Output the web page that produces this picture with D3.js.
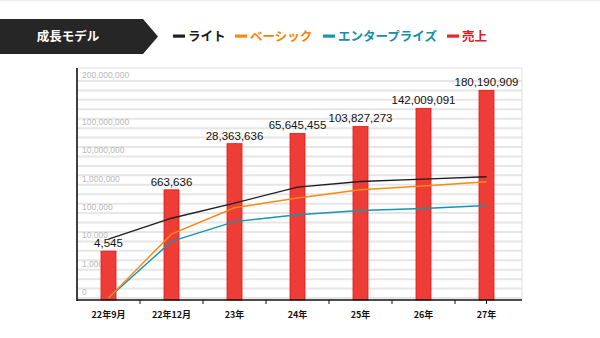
<!DOCTYPE html>
<html>
<head>
<meta charset="utf-8">
<script src="https://cdn.jsdelivr.net/npm/d3@7"></script>
<style>
  body { margin: 0; background: #fff; }
  svg { display: block; }
</style>
</head>
<body>
<div id="chart"></div>
<script>
var categories = ["22年9月", "22年12月", "23年", "24年", "25年", "26年", "27年"];
var sales      = [4545, 663636, 28363636, 65645455, 103827273, 142009091, 180190909];
var lite       = [12000, 66000, 225000, 830000, 1300000, 1590000, 1920000];
var basic      = [0, 18000, 154000, 340000, 665000, 910000, 1280000];
var enterprise = [0, 10000, 50000, 87000, 124000, 145000, 185000];
var yTicks     = [0, 1000, 10000, 100000, 1000000, 10000000, 100000000, 200000000];

var W = 600, H = 338;
var plotLeft = 77, plotRight = 522, plotTop = 68, base = 300;
var jp = "'Noto Sans CJK JP', 'Noto Sans', sans-serif";
var num = "'Liberation Sans', Arial, sans-serif";

// axis is linear up to 1,000, one step per decade up to 100M, then linear again to 200M
function tr(v) {
  if (v <= 1000) return v / 1000;
  if (v <= 1e8) return 1 + Math.log10(v / 1000);
  return 6 + (v - 1e8) / 1e8 * 5 / 3;
}

var x = d3.scalePoint().domain(categories).range([plotLeft, 518]).padding(0.5);
var y = d3.scaleLinear().domain([0, 23 / 3]).range([298, 81]);
var fmt = d3.format(",");

var svg = d3.select("#chart").append("svg")
    .attr("width", W)
    .attr("height", H);

svg.append("line")
    .attr("x1", 0).attr("x2", W).attr("y1", 0.5).attr("y2", 0.5)
    .attr("stroke", "#eeeeee");

// title banner
svg.append("path")
    .attr("d", "M0,19 L143,19 L158,36.5 L143,54 L0,54 Z")
    .attr("fill", "#262626");
svg.append("text")
    .attr("x", 68).attr("y", 41)
    .attr("text-anchor", "middle")
    .attr("fill", "#fff")
    .style("font", "bold 12.5px " + jp)
    .text("成長モデル");

// legend
var legend = [
  {name: "ライト", color: "#1e1e1e", text: "#1a1a1a", x: 173},
  {name: "ベーシック", color: "#f98a0b", text: "#f5820a", x: 235},
  {name: "エンタープライズ", color: "#1596ad", text: "#1590a8", x: 323},
  {name: "売上", color: "#e32a27", text: "#e0201e", x: 447}
];
var lg = svg.selectAll(".lg").data(legend).enter().append("g")
    .attr("class", "lg")
    .attr("transform", function(d) { return "translate(" + d.x + ",36)"; });
lg.append("rect")
    .attr("x", 0).attr("y", -1.5).attr("width", 12).attr("height", 3.2)
    .attr("fill", function(d) { return d.color; });
lg.append("text")
    .attr("x", 15).attr("y", 4.5)
    .attr("fill", function(d) { return d.text; })
    .style("font", "bold 12.5px " + jp)
    .text(function(d) { return d.name; });

// plot frame and grid
svg.append("path")
    .attr("d", "M" + plotLeft + "," + plotTop + " H" + plotRight + " V" + base)
    .attr("fill", "none")
    .attr("stroke", "#dedede");

svg.append("g").selectAll("line")
    .data(d3.range(0, 24))
  .enter().append("line")
    .attr("x1", plotLeft).attr("x2", plotRight)
    .attr("y1", function(k) { return y(k / 3); })
    .attr("y2", function(k) { return y(k / 3); })
    .attr("stroke", "#e6e6e6")
    .attr("stroke-width", 2);

svg.append("g").selectAll("text")
    .data(yTicks)
  .enter().append("text")
    .attr("x", 82)
    .attr("y", function(d) { return y(tr(d)) - 3; })
    .attr("fill", "#b8b8b8")
    .style("font", "8.5px " + num)
    .text(function(d) { return fmt(d); });

// sales bars
svg.append("g").selectAll("rect")
    .data(sales)
  .enter().append("rect")
    .attr("x", function(d, i) { return x(categories[i]) - 7.5; })
    .attr("y", function(d) { return y(tr(d)); })
    .attr("width", 15)
    .attr("height", function(d) { return base - y(tr(d)); })
    .attr("fill", "#ee3d37")
    .attr("stroke", "#e8141a")
    .attr("stroke-width", 0.8);

// plan lines
var line = d3.line()
    .x(function(d, i) { return x(categories[i]); })
    .y(function(d) { return y(tr(d)); });

[[enterprise, "#1596ad"], [basic, "#f98a0b"], [lite, "#1e1e1e"]].forEach(function(s) {
  svg.append("path")
      .datum(s[0])
      .attr("d", line)
      .attr("fill", "none")
      .attr("stroke", s[1])
      .attr("stroke-width", 1.4);
});

svg.append("g").selectAll("text")
    .data(sales)
  .enter().append("text")
    .attr("x", function(d, i) { return x(categories[i]); })
    .attr("y", function(d) { return y(tr(d)) - 4; })
    .attr("text-anchor", "middle")
    .attr("fill", "#111")
    .style("font", "11.5px " + num)
    .text(function(d) { return fmt(d); });

// axes
svg.append("line")
    .attr("x1", plotLeft).attr("x2", plotLeft).attr("y1", plotTop).attr("y2", base + 1)
    .attr("stroke", "#111").attr("stroke-width", 1.6);
svg.append("line")
    .attr("x1", plotLeft).attr("x2", plotRight).attr("y1", base).attr("y2", base)
    .attr("stroke", "#111").attr("stroke-width", 1.6);

var step = x.step();
var tickX = d3.range(1, categories.length).map(function(i) { return x(categories[i]) - step / 2; });
tickX.push(x(categories[categories.length - 1]));
svg.append("g").selectAll("line")
    .data(tickX)
  .enter().append("line")
    .attr("x1", function(d) { return d; }).attr("x2", function(d) { return d; })
    .attr("y1", base).attr("y2", base + 4)
    .attr("stroke", "#111").attr("stroke-width", 1);

svg.append("g").selectAll("text")
    .data(categories)
  .enter().append("text")
    .attr("x", function(d) { return x(d); })
    .attr("y", 318)
    .attr("text-anchor", "middle")
    .attr("fill", "#111")
    .style("font", "bold 9px " + jp)
    .text(function(d) { return d; });
</script>
</body>
</html>
